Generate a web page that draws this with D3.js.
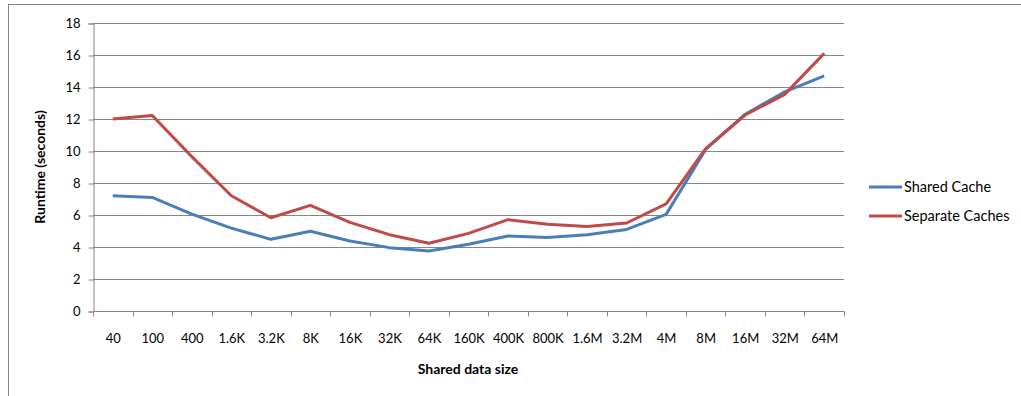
<!DOCTYPE html>
<html>
<head>
<meta charset="utf-8">
<script src="https://cdn.jsdelivr.net/npm/d3@7"></script>
<style>
  html, body { margin: 0; padding: 0; background: #fff; }
  svg { display: block; }
  text { font-family: Lato, "Open Sans", "Liberation Sans", sans-serif; fill: #000; }
</style>
</head>
<body>
<svg id="chart" width="1021" height="396"></svg>
<script>
// Data sizes along the x axis
const sizes = ["40", "100", "400", "1.6K", "3.2K", "8K", "16K", "32K", "64K", "160K",
               "400K", "800K", "1.6M", "3.2M", "4M", "8M", "16M", "32M", "64M"];

// Runtime in seconds for each configuration
const sharedCache = [7.2, 7.1, 6.05, 5.18, 4.48, 4.98, 4.37, 3.96, 3.75, 4.17,
                     4.69, 4.6, 4.76, 5.1, 6.04, 10.1, 12.3, 13.7, 14.7];
const separateCaches = [12.0, 12.22, 9.65, 7.2, 5.83, 6.6, 5.54, 4.77, 4.23, 4.85,
                        5.71, 5.42, 5.28, 5.5, 6.7, 10.15, 12.25, 13.54, 16.1];

const yTicks = [0, 2, 4, 6, 8, 10, 12, 14, 16, 18];

const seriesNames = ["Shared Cache", "Separate Caches"];
const seriesColors = ["#4a7ebb", "#be4b48"];

const svg = d3.select("#chart");

// Outer chart frame
svg.append("rect")
  .attr("x", 8.5).attr("y", 4.5)
  .attr("width", 1030).attr("height", 400)
  .attr("fill", "none").attr("stroke", "#868686").attr("stroke-width", 1);

const plot = { left: 93, right: 844, top: 23, bottom: 311 };

const x = d3.scaleBand().domain(sizes).range([plot.left, plot.right]).padding(0);
const y = d3.scaleLinear().domain([0, 18]).range([plot.bottom, plot.top]);

// Horizontal gridlines
svg.append("g")
  .selectAll("line")
  .data(yTicks.filter(d => d > 0))
  .join("line")
  .attr("x1", plot.left).attr("x2", plot.right)
  .attr("y1", d => Math.round(y(d)) + 0.5).attr("y2", d => Math.round(y(d)) + 0.5)
  .attr("stroke", "#868686").attr("stroke-width", 1);

// Y axis
const yAxis = svg.append("g")
  .attr("transform", `translate(${plot.left + 0.5},0.5)`)
  .call(d3.axisLeft(y).tickValues(yTicks).tickSize(5).tickPadding(8).tickFormat(d3.format("d")));
yAxis.select(".domain").attr("stroke", "#868686");
yAxis.selectAll(".tick line").attr("stroke", "#868686");
yAxis.selectAll(".tick text").attr("font-size", 13).style("font-family", "Lato, 'Open Sans', sans-serif").attr("fill", "#000");

// X axis: ticks on category boundaries
const xAxisG = svg.append("g").attr("transform", `translate(0.5,${plot.bottom + 0.5})`);
xAxisG.append("line")
  .attr("x1", plot.left).attr("x2", plot.right)
  .attr("stroke", "#868686");
const boundaries = sizes.map(d => x(d)).concat([plot.right]);
xAxisG.selectAll("line.tk")
  .data(boundaries)
  .join("line")
  .attr("class", "tk")
  .attr("x1", d => Math.round(d)).attr("x2", d => Math.round(d))
  .attr("y1", 0).attr("y2", 5)
  .attr("stroke", "#868686");
xAxisG.selectAll("text")
  .data(sizes)
  .join("text")
  .attr("x", d => x(d) + x.bandwidth() / 2)
  .attr("y", 31)
  .attr("text-anchor", "middle")
  .attr("font-size", 13)
  .text(d => d);

// Axis titles
svg.append("text")
  .attr("x", 468).attr("y", 374)
  .attr("text-anchor", "middle")
  .attr("font-size", 14).attr("font-weight", "bold")
  .text("Shared data size");

svg.append("text")
  .attr("transform", "translate(45,167) rotate(-90)")
  .attr("text-anchor", "middle")
  .attr("font-size", 14).attr("font-weight", "bold")
  .text("Runtime (seconds)");

// Series lines
const line = d3.line()
  .x((d, i) => x(sizes[i]) + x.bandwidth() / 2)
  .y(d => y(d));

[sharedCache, separateCaches].forEach((vals, i) => {
  svg.append("path")
    .datum(vals)
    .attr("d", line)
    .attr("fill", "none")
    .attr("stroke", seriesColors[i])
    .attr("stroke-width", 3)
    .attr("stroke-linejoin", "round");
});

// Legend
const legend = svg.append("g");
seriesNames.forEach((name, i) => {
  const ly = 187 + i * 29;
  legend.append("line")
    .attr("x1", 869).attr("x2", 902)
    .attr("y1", ly).attr("y2", ly)
    .attr("stroke", seriesColors[i]).attr("stroke-width", 3);
  legend.append("text")
    .attr("x", 904).attr("y", ly + 5)
    .attr("font-size", 14.5)
    .text(name);
});
</script>
</body>
</html>
